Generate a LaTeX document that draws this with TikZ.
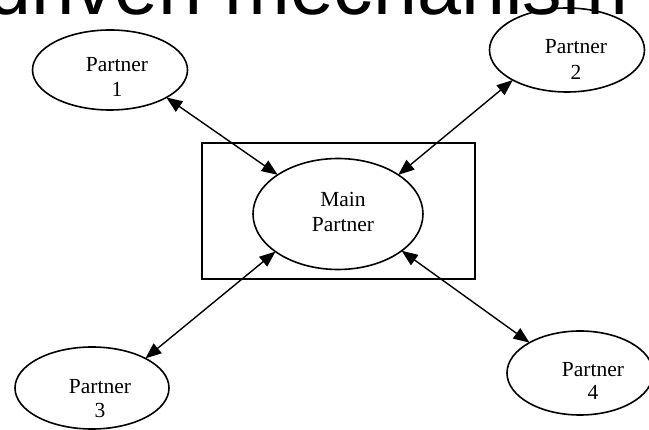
\documentclass[tikz,border=0pt]{standalone}
\usepackage{fontspec}
\setmainfont{Liberation Serif}
\newfontfamily\titlesans{Liberation Sans}
\usetikzlibrary{shapes.geometric,arrows.meta}
\tikzset{
  partner/.style={draw, ellipse, line width=1.6pt, inner sep=0pt, outer sep=0pt},
  lbl/.style={anchor=base, inner sep=0pt, font=\fontsize{21.5}{25}\selectfont},
  link/.style={line width=1.4pt, {Triangle[length=16pt,width=12.5pt]}-{Triangle[length=16pt,width=12.5pt]}},
  frame/.style={draw, line width=1.6pt, inner sep=0pt, outer sep=0pt}
}
\begin{document}
\begin{tikzpicture}[x=1pt,y=-1pt]
\useasboundingbox (0,0) rectangle (649,430);
\clip (0,0) rectangle (649,430);
\fill[white] (0,0) rectangle (649,430);
% partially visible title
\node[anchor=base west, inner sep=0pt, font=\titlesans\fontsize{79}{96}\selectfont] (title) at (-13,15) {driven mechanism};
% frame around main partner
\node[frame, minimum width=273pt, minimum height=136pt] (box) at (338.5,211) {};
% ellipses
\node[partner, minimum width=155pt, minimum height=80pt] (p1) at (110,70) {};
\node[partner, minimum width=155pt, minimum height=84pt] (p2) at (567,50) {};
\node[partner, minimum width=170pt, minimum height=111pt] (main) at (338,214) {};
\node[partner, minimum width=154pt, minimum height=82pt] (p3) at (92,388) {};
\node[partner, minimum width=146pt, minimum height=84pt] (p4) at (580,373) {};
% labels
\node[lbl] (p1a) at (117,72) {Partner};
\node[lbl] (p1b) at (117,97) {1};
\node[lbl] (p2a) at (576,54) {Partner};
\node[lbl] (p2b) at (576,80) {2};
\node[lbl] (ma) at (343,207) {Main};
\node[lbl] (mb) at (343,232) {Partner};
\node[lbl] (p3a) at (100,394) {Partner};
\node[lbl] (p3b) at (100,418) {3};
\node[lbl] (p4a) at (593,377) {Partner};
\node[lbl] (p4b) at (593,400) {4};
% connectors
\draw[link] (p1.-26) -- (main.147);
\draw[link] (p2.-151) -- (main.33);
\draw[link] (p3.29) -- (main.-149);
\draw[link] (p4.149) -- (main.-30);
\end{tikzpicture}
\end{document}
